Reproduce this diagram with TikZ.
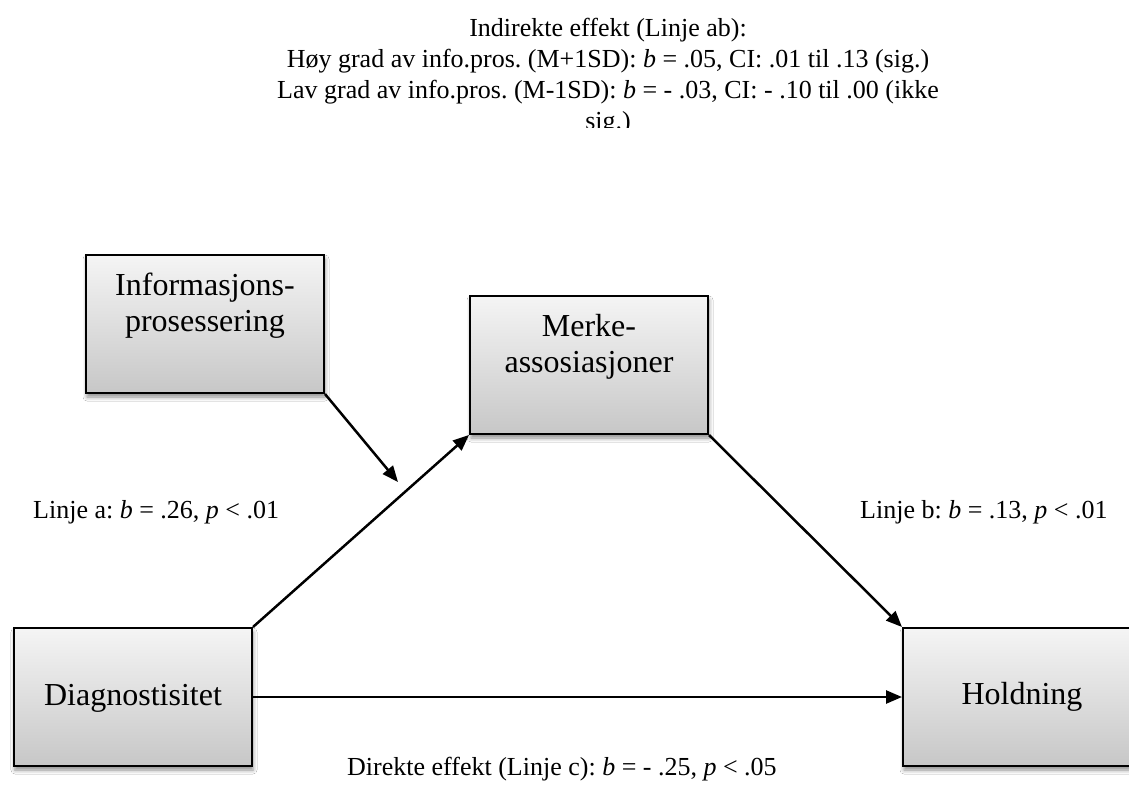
\documentclass[tikz,border=0pt]{standalone}
\usepackage{fontspec}
\setmainfont{Liberation Serif}
\usetikzlibrary{arrows.meta,shadows.blur}
\frenchspacing
\begin{document}
\begin{tikzpicture}[x=1pt,y=-1pt,
  box/.style={draw=black, line width=2pt, top color=black!4, bottom color=black!22,
    minimum width=238pt, minimum height=138pt, inner sep=0pt,
    blur shadow={shadow xshift=1pt, shadow yshift=-4pt, shadow blur radius=4pt, shadow opacity=45}},
  boxtext/.style={font=\fontsize{32}{36}\selectfont, align=center, inner sep=0pt},
  lbl/.style={font=\fontsize{26}{31}\selectfont, inner sep=0pt},
  arr/.style={line width=2.5pt, -{Triangle[length=16pt,width=13pt]}}]
\useasboundingbox (0,0) rectangle (1129,784);
\fill[white] (0,0) rectangle (1129,784);

\node[box] (info) at (205,324) {};
\node[box] (merke) at (589,365) {};
\node[box] (diag) at (133,697) {};
\node[box] (hold) at (1022,697) {};

\node[boxtext, anchor=north] (infot) at (205,273) {Informasjons-\\prosessering};
\node[boxtext, anchor=north] (merket) at (589,314) {Merke-\\assosiasjoner};
\node[boxtext, anchor=base] (diagt) at (133,705) {Diagnostisitet};
\node[boxtext, anchor=base] (holdt) at (1022,704) {Holdning};

\coordinate (mod) at (398,482);
\draw[arr] (diag.north east) -- (merke.south west);
\draw[arr] (merke.south east) -- (hold.north west);
\draw[arr] (diag.east) -- (hold.west);
\draw[arr] (info.south east) -- (mod);

\node[lbl, anchor=base west] (la) at (33,518) {Linje a: \textit{b} = .26, \textit{p} < .01};
\node[lbl, anchor=base west] (lb) at (860,518) {Linje b: \textit{b} = .13, \textit{p} < .01};
\node[lbl, anchor=base west] (lc) at (347,775) {Direkte effekt (Linje c): \textit{b} = - .25, \textit{p} < .05};

\begin{scope}
\clip (0,0) rectangle (1129,127);
\node[lbl, align=center, anchor=north] (ind) at (608,18) {Indirekte effekt (Linje ab):\\H\o y grad av info.pros. (M+1SD): \textit{b} = .05, CI: .01 til .13 (sig.)\\Lav grad av info.pros. (M-1SD): \textit{b} = - .03, CI: - .10 til .00 (ikke\\sig.)};
\end{scope}
\end{tikzpicture}
\end{document}
